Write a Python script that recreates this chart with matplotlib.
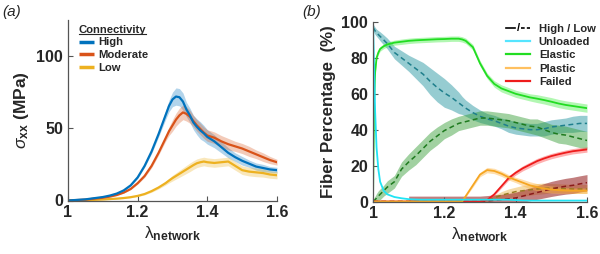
import numpy as np
import matplotlib
matplotlib.use("Agg")
import matplotlib.pyplot as plt
from matplotlib.lines import Line2D
from matplotlib.text import Text
from matplotlib.legend_handler import HandlerBase

plt.rcParams['font.family'] = ['Liberation Sans', 'DejaVu Sans']
plt.rcParams['mathtext.fontset'] = 'custom'
plt.rcParams['mathtext.rm'] = 'Liberation Sans'
plt.rcParams['mathtext.it'] = 'Liberation Sans:italic'
plt.rcParams['mathtext.bf'] = 'Liberation Sans:bold'

# ---------------- Panel (a) data ----------------
lam_a = [1.00, 1.05, 1.10, 1.12, 1.14, 1.16, 1.18, 1.20, 1.22, 1.24, 1.26, 1.28, 1.29, 1.30,
         1.31, 1.32, 1.33, 1.34, 1.35, 1.36, 1.37, 1.38, 1.39, 1.40, 1.42, 1.44, 1.46, 1.48,
         1.50, 1.52, 1.54, 1.56, 1.58, 1.60]
high_a = [0, 0.8, 2.4, 3.4, 4.8, 7, 10.5, 16, 24, 34, 46, 59, 65.5, 70,
          72, 71.5, 68.5, 63, 59, 54, 51, 48.5, 46.5, 44, 41, 37, 33, 30,
          27.5, 25.5, 23.5, 22.5, 21.5, 21]
high_a_err = [0, 0.1, 0.2, 0.3, 0.4, 0.5, 0.6, 0.8, 1, 1.5, 2, 3, 4, 5,
              6, 6, 6, 5, 5, 5, 5.5, 6, 5.5, 5, 4.5, 4, 3.5, 3,
              3, 2.5, 2.5, 2.5, 2, 2]
mod_a = [0, 0.6, 1.9, 2.7, 3.8, 5.5, 8, 12, 17, 24, 33, 43, 48, 52,
         56, 59, 61, 60, 58, 55, 52, 49.5, 47, 45, 43.5, 41, 39, 37.5,
         36, 34, 32, 30, 28, 26.5]
mod_a_err = [0, 0.1, 0.2, 0.25, 0.3, 0.4, 0.5, 0.7, 1, 1.3, 1.6, 2, 3, 4,
             4.5, 5, 5, 5, 4.5, 4, 4, 4, 4, 4, 4, 4, 4, 3.5,
             3.5, 3.5, 3, 3, 2.5, 2]
low_a = [0, 0.2, 0.7, 1.0, 1.3, 1.7, 2.3, 3.2, 4.5, 6.5, 9, 12, 13.8, 15.5,
         17, 18.5, 20, 21.5, 23, 24.5, 25.8, 26.5, 27, 26.5, 26, 26.5, 27, 24,
         21, 20, 19.5, 19, 18, 17.5]
low_a_err = [0, 0.1, 0.2, 0.22, 0.25, 0.3, 0.4, 0.5, 0.6, 0.8, 1, 1.3, 1.6, 2,
             2.2, 2.4, 2.6, 2.8, 3, 3, 3, 3, 3, 3, 3, 3, 3, 3,
             3, 3, 3, 2.8, 2.6, 2.5]

# ---------------- Panel (b) data ----------------
lam_b = [1.000, 1.003, 1.006, 1.01, 1.015, 1.02, 1.03, 1.04, 1.06, 1.08, 1.10, 1.12, 1.14,
         1.16, 1.18, 1.20, 1.22, 1.24, 1.25, 1.26, 1.28, 1.30, 1.32, 1.34, 1.36, 1.38, 1.40,
         1.42, 1.44, 1.46, 1.48, 1.50, 1.52, 1.54, 1.56, 1.58, 1.60]
unl_high = [100, 75, 50, 30, 18, 11, 6, 4, 2.5, 1.8, 1.3, 1.1, 1.0,
            1.0, 1.0, 1.0, 1.0, 1.0, 1.0, 1.0, 1.0, 1.0, 1.0, 1.0, 1.0, 1.0, 0.8,
            0.6, 0.5, 0.5, 0.5, 0.5, 0.5, 0.5, 0.5, 0.5, 0.5]
ela_high = [0, 55, 72, 80, 83, 85, 86.5, 87.5, 88.5, 89, 89.5, 89.8, 90,
            90.2, 90.4, 90.5, 90.7, 90.7, 90.3, 89.5, 86, 77, 70, 65.5, 63, 61.5, 60,
            59, 58, 57.3, 56.5, 55.6, 54.6, 53.8, 53.2, 52.6, 52]
pla_high = [0, 0, 0, 0, 0, 0, 0, 0, 0, 0, 0, 0, 0,
            0, 0, 0, 0, 0, 0, 3, 9, 15, 17.5, 17, 15.5, 13.5, 12,
            10.5, 9, 8, 7.2, 6.7, 6.3, 6.1, 6, 6, 6]
fai_high = [0, 0, 0, 0, 0, 0, 0, 0, 0, 0, 0, 0, 0,
            0, 0, 0, 0, 0, 0, 0, 0, 0, 0.8, 4, 8.5, 13, 16,
            18.5, 20.5, 22.5, 24, 25.3, 26.3, 27.2, 28, 28.5, 29]
ela_high_err = [0, 0.5, 1, 1.2, 1.2, 1.3, 1.3, 1.4, 1.4, 1.5, 1.5, 1.5, 1.5,
                1.5, 1.5, 1.5, 1.5, 1.5, 1.5, 1.5, 1.5, 1.5, 1.5, 1.8, 2, 2, 2,
                2, 2, 2.2, 2.2, 2.3, 2.3, 2.3, 2.3, 2.3, 2.3]
pla_high_err = [0, 0, 0, 0, 0, 0, 0, 0, 0, 0, 0, 0, 0,
                0, 0, 0, 0, 0, 0, 0.5, 1, 1.2, 1.5, 1.5, 1.5, 1.5, 1.5,
                1.8, 2, 2, 2, 2, 1.8, 1.6, 1.5, 1.5, 1.5]
fai_high_err = [0, 0, 0, 0, 0, 0, 0, 0, 0, 0, 0, 0, 0,
                0, 0, 0, 0, 0, 0, 0, 0, 0, 0.3, 0.8, 1, 1.2, 1.3,
                1.4, 1.5, 1.5, 1.5, 1.5, 1.5, 1.5, 1.5, 1.5, 1.5]

unl_low = [97, 96, 95, 94, 93, 92, 90, 88, 83, 80, 77, 74, 71,
           67, 63.5, 60.5, 58, 55, 53.5, 52, 49.5, 47.5, 46, 45, 43.5, 42, 41,
           40.5, 40, 40, 40.5, 41.5, 42, 42.5, 43, 43.5, 43.5]
unl_low_err = [2, 2, 2, 2, 2.2, 2.5, 2.8, 3, 3.5, 4, 4.5, 5.5, 6.5,
               7.5, 8, 8, 7, 6, 5, 4.5, 4, 3.5, 3, 3, 3, 3.5, 3.5,
               3.5, 3.5, 3.5, 4, 4, 4, 4, 4.5, 4.5, 4.5]
ela_low = [0, 0.5, 1, 2, 3, 4, 6, 8, 11, 18, 22, 25.5, 29.5,
           33.5, 36.5, 39.5, 41.5, 43.5, 44, 44.5, 45.5, 46.5, 46.5, 46, 45.5, 45, 44,
           43, 42, 41.5, 40, 38.5, 37.5, 37, 36, 35, 34]
ela_low_err = [1, 1.5, 2, 2.5, 3, 3, 3, 3.5, 3.5, 4, 4.5, 5, 5,
               5, 5, 4.5, 4.5, 4, 4, 4, 4, 4, 4, 4, 4, 4, 4,
               4, 4, 4.5, 4.5, 4.5, 5, 5, 5, 5, 5]
pla_low = [0, 0, 0, 0, 0, 0, 0, 0, 0, 0, 0, 0, 0,
           0, 0, 0, 0, 0, 0, 0, 0, 0, 0.5, 2, 3.5, 4.5, 5.5,
           6, 6.5, 7, 7.3, 7.5, 7.4, 7.2, 7, 7, 7]
pla_low_err = [0, 0, 0, 0, 0, 0, 0, 0, 0, 0, 0, 0, 0,
               0, 0, 0, 0, 0, 0, 0, 0, 0, 0.5, 1.5, 2, 2.5, 2.5,
               3, 3, 3, 3, 2.5, 2.5, 2.5, 2.5, 2.5, 2.5]
fai_low = [0, 0, 0, 0, 0, 0, 0, 0, 0, 0, 0, 0, 0,
           0, 0, 0, 0, 0, 0, 0, 0, 0, 0.3, 0.7, 1, 1.5, 2,
           3, 4, 5, 6, 7, 7.8, 8.5, 9, 9.8, 10.5]
fai_low_err = [np.nan, np.nan, np.nan, np.nan, np.nan, np.nan, np.nan, np.nan, np.nan, np.nan,
               3, 3, 3, 3, 3, 3, 3, 3, 3, 3, 3, 3, 3, 3, 3,
               3, 3.2, 3.4, 3.6, 3.8, 4, 4.2, 4.3, 4.4, 4.5, 4.5, 4.5]

# ---------------- Figure ----------------
fig = plt.figure(figsize=(6.0, 2.54), dpi=100)
W, H = 600.0, 254.0
def axrect(l, t, r, b):
    return [l / W, 1 - b / H, (r - l) / W, (b - t) / H]

spine_col = '#555555'
tick_col = '#262626'

def style_axes(ax):
    for s in ['top', 'right']:
        ax.spines[s].set_visible(False)
    for s in ['left', 'bottom']:
        ax.spines[s].set_color(spine_col)
        ax.spines[s].set_linewidth(0.9)
    ax.tick_params(direction='in', length=3.5, width=0.8, color=spine_col,
                   labelsize=11.5, labelcolor=tick_col, pad=3.5)
    for lab in ax.get_xticklabels() + ax.get_yticklabels():
        lab.set_fontweight('bold')

# Panel (a)
axa = fig.add_axes(axrect(68, 20, 277, 200.5))
la = np.array(lam_a)
series_a = [(high_a, high_a_err, '#0072BD', 'High'),
            (mod_a, mod_a_err, '#D95319', 'Moderate'),
            (low_a, low_a_err, '#EDB120', 'Low')]
handles_a = []
for vals, err, col, lab in series_a:
    v = np.array(vals); e = np.array(err)
    axa.fill_between(la, v - e, v + e, color=col, alpha=0.3, lw=0)
for vals, err, col, lab in series_a[::-1]:
    axa.plot(la, vals, color=col, lw=1.6)
for vals, err, col, lab in series_a:
    handles_a.append(Line2D([], [], color=col, lw=2.5, solid_capstyle='butt', label=lab))
axa.set_xlim(1, 1.6)
axa.set_ylim(0, 125)
axa.set_xticks([1, 1.2, 1.4, 1.6])
axa.set_xticklabels(['1', '1.2', '1.4', '1.6'])
axa.set_yticks([0, 50, 100])
style_axes(axa)
axa.set_xlabel(r'$\mathrm{\lambda}_{\mathbf{network}}$', fontsize=12.5, color=tick_col, labelpad=3)
axa.set_ylabel(r'$\sigma_{\mathbf{xx}}$ (MPa)', fontsize=12.5, fontweight='bold', color=tick_col, labelpad=4)

leg_a = axa.legend(handles=handles_a, loc='upper left', bbox_to_anchor=(73 / W, 1 - 19 / H),
                   bbox_transform=fig.transFigure, frameon=False, borderpad=0,
                   handlelength=1.35, handletextpad=0.4, labelspacing=0.25,
                   title='Connectivity', alignment='left',
                   prop={'weight': 'bold', 'size': 8.1})
leg_a.get_title().set_fontweight('bold')
leg_a.get_title().set_fontsize(8.1)
leg_a.get_title().set_color(tick_col)
for t in leg_a.get_texts():
    t.set_color(tick_col)

# Panel (b)
axb = fig.add_axes(axrect(373, 22, 587, 201.5))
lb = np.array(lam_b)
c_unl, c_unl_d = '#20e4f4', '#1f7f8c'
c_ela, c_ela_d = '#22dd22', '#1e7a1e'
c_pla, c_pla_d = '#f5a623', '#9a7a22'
c_fai, c_fai_d = '#ee1c1c', '#8a1a1a'

def band(ax, y, e, col, alpha):
    y = np.array(y, dtype=float); e = np.array(e, dtype=float)
    ax.fill_between(lb, y - e, y + e, color=col, alpha=alpha, lw=0)

band(axb, unl_low, unl_low_err, '#2f9aa5', 0.5)
band(axb, ela_low, ela_low_err, '#2f9a2f', 0.45)
band(axb, pla_low, pla_low_err, '#e8b040', 0.45)
band(axb, fai_low, fai_low_err, '#9a2a2a', 0.6)
band(axb, ela_high, ela_high_err, '#55ee55', 0.45)
band(axb, pla_high, pla_high_err, '#ffb84a', 0.45)
band(axb, fai_high, fai_high_err, '#ff5050', 0.45)

dash = (0, (3.2, 2.2))
axb.plot(lb, unl_low, color=c_unl_d, lw=1.1, ls=dash)
axb.plot(lb, ela_low, color=c_ela_d, lw=1.1, ls=dash)
axb.plot(lb, pla_low, color=c_pla_d, lw=1.1, ls=dash)
axb.plot(lb, fai_low, color=c_fai_d, lw=1.1, ls=dash)
axb.plot(lb, fai_high, color=c_fai, lw=1.3)
axb.plot(lb, pla_high, color=c_pla, lw=1.3)
axb.plot(lb, ela_high, color=c_ela, lw=1.3)
axb.plot(lb, unl_high, color=c_unl, lw=1.3)

axb.set_xlim(1, 1.6)
axb.set_ylim(0, 100)
axb.set_xticks([1, 1.2, 1.4, 1.6])
axb.set_xticklabels(['1', '1.2', '1.4', '1.6'])
axb.set_yticks([0, 20, 40, 60, 80, 100])
style_axes(axb)
axb.set_xlabel(r'$\mathrm{\lambda}_{\mathbf{network}}$', fontsize=12.5, color=tick_col, labelpad=3)
axb.set_ylabel('Fiber Percentage  (%)', fontsize=12.2, fontweight='bold', color=tick_col, labelpad=4)


class SolidDashHandler(HandlerBase):
    def create_artists(self, legend, orig_handle, xdescent, ydescent, width, height, fontsize, trans):
        y = height / 2 - ydescent
        x0 = -xdescent
        l1 = Line2D([x0, x0 + 0.38 * width], [y, y], color='k', lw=1.2, transform=trans)
        t = Text(x0 + 0.5 * width, y, '/', ha='center', va='center', fontsize=fontsize,
                 fontweight='bold', color='k', transform=trans)
        l2 = Line2D([x0 + 0.62 * width, x0 + width], [y, y], color='k', lw=1.2,
                    ls=(0, (2.2, 1.3)), transform=trans)
        return [l1, t, l2]


hl_proxy = Line2D([], [], color='k')
handles_b = [hl_proxy,
             Line2D([], [], color='#55e5ff', lw=1.6),
             Line2D([], [], color=c_ela, lw=1.6),
             Line2D([], [], color='#ffc060', lw=1.6),
             Line2D([], [], color=c_fai, lw=1.6)]
labels_b = ['High / Low', 'Unloaded', 'Elastic', 'Plastic', 'Failed']
leg_b = axb.legend(handles_b, labels_b, loc='upper left', bbox_to_anchor=(500 / W, 1 - 18 / H),
                   bbox_transform=fig.transFigure, frameon=False, borderpad=0,
                   handlelength=2.2, handletextpad=0.75, labelspacing=0.3,
                   handler_map={hl_proxy: SolidDashHandler()},
                   prop={'weight': 'bold', 'size': 8.1})
for t in leg_b.get_texts():
    t.set_color(tick_col)

fig.text(2 / W, 1 - 12 / H, '(a)', fontsize=11, style='italic', color=tick_col, va='center', ha='left')
fig.text(302 / W, 1 - 12 / H, '(b)', fontsize=11, style='italic', color=tick_col, va='center', ha='left')

# underline legend title
fig.canvas.draw()
bb = leg_a.get_title().get_window_extent(fig.canvas.get_renderer())
inv = fig.transFigure.inverted()
(fx0, fy0) = inv.transform((bb.x0, bb.y0 + 0.5))
(fx1, _) = inv.transform((bb.x1, bb.y0))
fig.add_artist(Line2D([fx0, fx1], [fy0, fy0], transform=fig.transFigure, color=tick_col, lw=0.8))

fig.savefig('out.png', dpi=100)
